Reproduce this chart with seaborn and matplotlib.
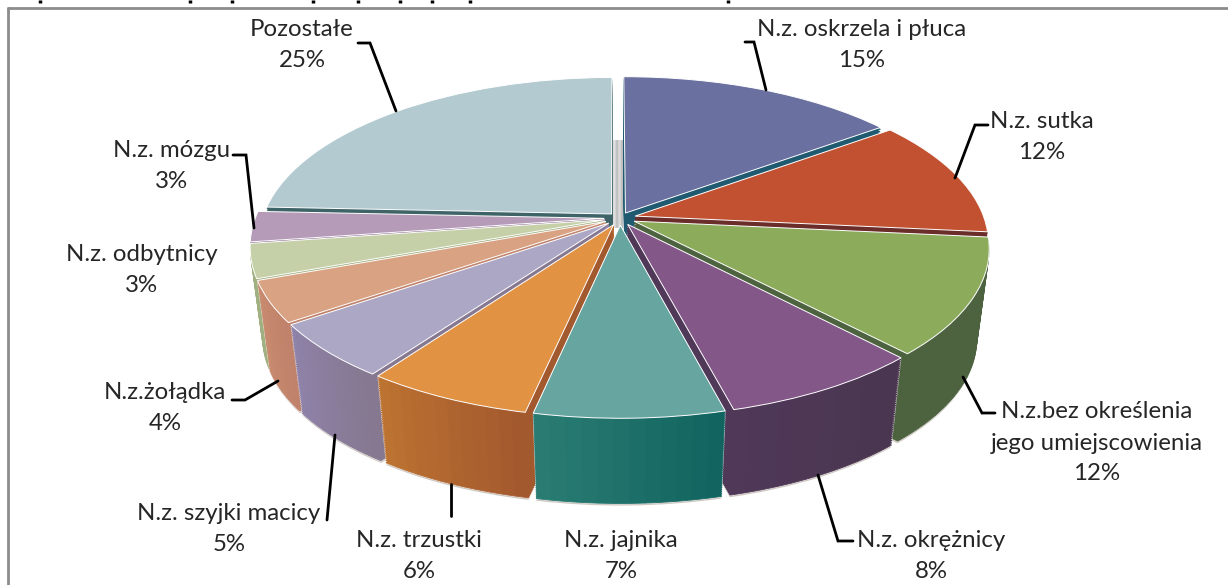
import numpy as np
import matplotlib
matplotlib.use("Agg")
import matplotlib.pyplot as plt
from matplotlib.transforms import Transform
from matplotlib.colors import to_rgb
import seaborn as sns

# ---- data ----
names = ["N.z. oskrzela i płuca", "N.z. sutka", "N.z.bez określenia\njego umiejscowienia", "N.z. okrężnicy",
         "N.z. jajnika", "N.z. trzustki", "N.z. szyjki macicy", "N.z.żołądka",
         "N.z. odbytnicy", "N.z. mózgu", "Pozostałe"]
pct_labels = ["15%", "12%", "12%", "8%", "7%", "6%", "5%", "4%", "3%", "3%", "25%"]
values = [14.95, 11.65, 11.45, 7.95, 7.4, 6.52, 5.43, 4.05, 3.35, 3.0, 24.25]
explode = [0.035, 0.045, 0.045, 0.045, 0.045, 0.045, 0.045, 0.045, 0.045, 0.045, 0.035]
top_colors = ["#6a70a0", "#c15130", "#8cac5c", "#835888", "#66a5a0", "#e29243",
              "#aca7c4", "#d8a283", "#c5d0a8", "#b59bb8", "#b3cad0"]
wall_left = ["#205a70", "#6a2d2a", "#4d6340", "#4f3858", "#2a7c72", "#bc7230",
             "#8f82a8", "#c88c70", "#a0b080", "#8a6a90", "#3f6468"]
wall_right = ["#205a70", "#6a2d2a", "#4d6340", "#4a3650", "#116460", "#a3592e",
              "#857890", "#c0826a", "#a0b080", "#8a6a90", "#3f6468"]
label_xy = [(862, 45), (1042, 137), (1097, 443), (931, 556), (621, 556), (419, 556),
            (229, 529), (165, 408), (142, 270), (172, 166), (302, 45)]
leaders = [[(745, 42), (754, 42), (766, 90)],
           [(988, 125), (975, 125), (955, 178)],
           [(995, 413), (982, 413), (963, 377)],
           [(853, 541), (838, 541), (818, 475)],
           [(451, 484), (451, 516)],
           [(327, 520), (335, 435)],
           [(232, 400), (245, 400), (278, 381)],
           [(233, 155), (246, 155), (254, 228)],
           [(358, 43), (370, 43), (396, 111)]]
# the chart's heading is cropped by the picture: only its descenders remain
heading_stubs = [40, 190, 232, 313, 358, 400, 432, 470, 728]

# ---- geometry of the tilted disc (pixels) ----
CX, CY, A, B, K = 620, 218, 349, 159.6, 0.16
DEPTH, SHRINK = 92, 0.034
START_OFFSET = -0.05


class Tilt(Transform):
    input_dims = output_dims = 2
    is_separable = False
    has_inverse = False

    def __init__(self, t=0.0):
        super().__init__()
        self.t = t

    def transform_non_affine(self, v):
        v = np.asarray(v, float)
        w = 1 + K * v[:, 1]
        s = 1 - SHRINK * self.t
        return np.column_stack([CX + s * A * v[:, 0] / w,
                                CY - s * B * v[:, 1] / w + self.t * DEPTH])


sns.set_theme(style="white")
plt.rcParams["font.family"] = ["Lato", "DejaVu Sans"]
palette = sns.color_palette(top_colors)

fig = plt.figure(figsize=(12.28, 5.85), dpi=100)
ax = fig.add_axes([0, 0, 1, 1])


def slice_at(start, val, off, t, colors, edge=None, lw=0.0):
    a = np.radians((start + val / 2) * 3.6)
    n = len(colors)
    wedges, _ = ax.pie([val / 100 / n] * n, normalize=False, startangle=90 - start * 3.6,
                       counterclock=False, colors=colors, radius=1,
                       center=(off * np.sin(a), off * np.cos(a)))
    for wd in wedges:
        wd.set_transform(Tilt(t) + ax.transData)
        wd.set_edgecolor(edge if edge is not None else wd.get_facecolor())
        wd.set_linewidth(lw)


starts = np.concatenate([[0], np.cumsum(values)[:-1]]) + START_OFFSET
mids = (starts + np.array(values) / 2) * 3.6
order = np.argsort(-np.cos(np.radians(mids)))   # far slices first
layers = np.linspace(1, 0.02, 40)
for i in order:
    left, right = to_rgb(wall_left[i]), to_rgb(wall_right[i])
    grads = [tuple(np.array(right) * (1 - f) + np.array(left) * f) for f in np.linspace(0, 1, 12)]
    slice_at(starts[i], values[i], explode[i], 1.025, ["#cfc8c2"])
    for t in layers:
        slice_at(starts[i], values[i], explode[i], t, ["white"], edge="white", lw=1.0)
    for t in layers:
        slice_at(starts[i], values[i], explode[i], t, grads, lw=0.6)
    slice_at(starts[i], values[i], explode[i], 0, [palette[i]], edge="white", lw=0.7)

# grey core seen through the gap at twelve o'clock
core = np.array([[0.72, 0.8, 0.88, 0.75, 0.86, 0.74, 0.7]])
ax.imshow(core, cmap="gray", vmin=0, vmax=1, extent=(608, 626, 228, 140), aspect="auto", zorder=0.5)

for pts in leaders:
    xs, ys = zip(*pts)
    ax.plot(xs, ys, color="black", lw=2, solid_joinstyle="miter", zorder=6)

for name, pct, (x, y) in zip(names, pct_labels, label_xy):
    lines = name.split("\n") + [pct]
    for j, line in enumerate(lines):
        ax.text(x, y + (j - (len(lines) - 1) / 2) * 31, line, ha="center", va="center",
                fontsize=17.3, color="#262626", zorder=7)

ax.vlines(heading_stubs, 0, 3, color="black", lw=2.5, zorder=7)

# frame of the chart area (open to the right and bottom)
ax.plot([8, 8], [585, 8], color="#8c8c8c", lw=2, zorder=6)
ax.plot([8, 1228], [8, 8], color="#8c8c8c", lw=2, zorder=6)

ax.set_xlim(0, 1228)
ax.set_ylim(585, 0)
ax.set_aspect("auto")
ax.axis("off")
fig.savefig("out.png", dpi=100, facecolor="white")
